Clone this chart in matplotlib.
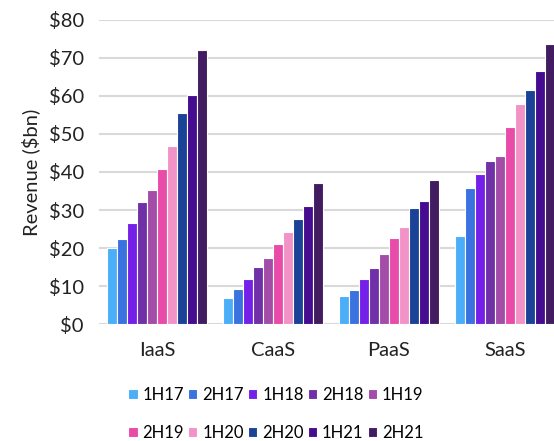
import numpy as np
import matplotlib.pyplot as plt
from matplotlib.ticker import FuncFormatter

categories = ["IaaS", "CaaS", "PaaS", "SaaS"]
periods = ["1H17", "2H17", "1H18", "2H18", "1H19", "2H19", "1H20", "2H20", "1H21", "2H21"]

# revenue in $bn, one list per category, ordered by period
iaas = [19.9, 22.4, 26.7, 32.0, 35.3, 40.7, 46.9, 55.6, 60.2, 72.1]
caas = [6.9, 9.3, 11.9, 15.1, 17.3, 21.1, 24.3, 27.6, 31.1, 37.1]
paas = [7.4, 9.0, 11.8, 14.8, 18.4, 22.6, 25.5, 30.5, 32.4, 37.8]
saas = [23.1, 35.8, 39.5, 42.9, 44.1, 51.8, 57.8, 61.5, 66.6, 73.6]

colors = ["#4BAEF8", "#3A72E0", "#7520E8", "#7030A8", "#A34DA8",
          "#E84CA8", "#F293C8", "#1A4296", "#450C90", "#421C60"]

data = np.array([iaas, caas, paas, saas])

plt.rcParams['font.family'] = ['Lato', 'DejaVu Sans']

fig = plt.figure(figsize=(5.54, 4.41), dpi=100)
ax = fig.add_axes([0.179, 0.265, 0.837, 0.69])

x = np.arange(len(categories))
slot = 0.0862
for i, p in enumerate(periods):
    offs = (i - 4.5) * slot
    ax.bar(x + offs, data[:, i], width=slot, color=colors[i],
           edgecolor="white", linewidth=0.8, label=p, zorder=3)

ax.set_xlim(-0.5, 3.5)
ax.set_ylim(0, 80)
ax.set_yticks(range(0, 81, 10))
ax.yaxis.set_major_formatter(FuncFormatter(lambda v, pos: "${:.0f}".format(v)))
ax.set_xticks(x)
ax.set_xticklabels(categories)
ax.grid(axis="y", color="#D9D9D9", linewidth=1.5, zorder=0)
for s in ax.spines.values():
    s.set_visible(False)
ax.tick_params(length=0, labelsize=14.5, colors="#222222")
ax.tick_params(axis="x", pad=13)
ax.tick_params(axis="y", pad=11)
ax.set_ylabel("Revenue ($bn)", fontsize=14.5, color="#222222", labelpad=6)

# legend reads across rows
h, l = ax.get_legend_handles_labels()
order = [0, 5, 1, 6, 2, 7, 3, 8, 4, 9]
fig.legend([h[k] for k in order], [l[k] for k in order],
           loc="center", bbox_to_anchor=(0.498, 0.061), ncol=5, frameon=False,
           fontsize=12, handlelength=0.55, handleheight=0.55, handletextpad=0.3,
           columnspacing=0.25, labelspacing=1.3, borderaxespad=0)

fig.savefig("out.png", dpi=100)
